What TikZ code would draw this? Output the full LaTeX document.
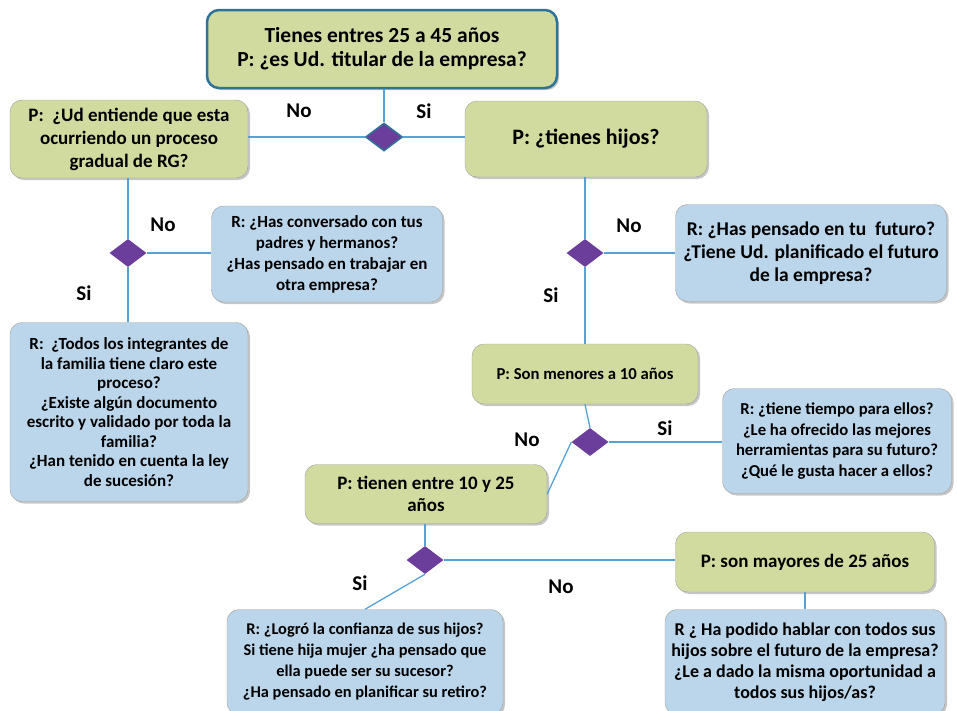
\documentclass[tikz,border=0pt]{standalone}
\usepackage{fontspec}
\setmainfont{Carlito}
\usetikzlibrary{shapes.geometric,shadows}

\definecolor{qgreen}{HTML}{D1DBA0}
\definecolor{rblue}{HTML}{BBD6EA}
\definecolor{dpurple}{HTML}{6B3E9C}
\definecolor{lineblue}{HTML}{55A3D6}
\definecolor{edgeteal}{HTML}{2F7398}

\tikzset{
  qbox/.style={draw=gray!75, fill=qgreen, rounded corners=12pt, align=center,
    inner sep=2pt, drop shadow={shadow xshift=2pt, shadow yshift=-2pt, opacity=.45}},
  rbox/.style={qbox, fill=rblue},
  choice/.style={diamond, fill=dpurple, inner sep=0pt, minimum width=37pt, minimum height=28pt},
  conn/.style={draw=lineblue, line width=1.3pt},
  answer/.style={font=\fontsize{21}{22}\selectfont\bfseries}
}

\begin{document}
\begin{tikzpicture}[x=1pt, y=-1pt]
			\useasboundingbox (0,0) rectangle (957,710);
			\clip (0,0) rectangle (957,710);
			
			\node[qbox, draw=edgeteal, line width=2.5pt, minimum width=350pt, minimum height=78pt,
			  font=\fontsize{21.5}{24}\selectfont\bfseries] (start) at (382,49)
			  {Tienes entres 25 a 45 años\\P: ¿es Ud. titular de la empresa?};
			
			\node[qbox, minimum width=238pt, minimum height=78pt, font=\fontsize{19}{23}\selectfont\bfseries]
			  (proceso) at (129,139) {P:\ \ ¿Ud entiende que esta\\ocurriendo un proceso\\gradual de RG?};
			\node[qbox, minimum width=242pt, minimum height=76pt, font=\fontsize{22}{24}\selectfont\bfseries]
			  (hijos) at (586,139) {P: ¿tienes hijos?};
			
			\node[rbox, minimum width=231pt, minimum height=96pt, font=\fontsize{17}{21}\selectfont\bfseries]
			  (padres) at (327,254) {R: ¿Has conversado con tus\\padres y hermanos?\\¿Has pensado en trabajar en\\otra empresa?};
			\node[rbox, minimum width=238pt, minimum height=179pt, font=\fontsize{17}{19.5}\selectfont\bfseries]
			  (familia) at (129,412) {R:\ \ ¿Todos los integrantes de\\la familia tiene claro este\\proceso?\\¿Existe algún documento\\escrito y validado por toda la\\familia?\\¿Han tenido en cuenta la ley\\de sucesión?};
			\node[rbox, minimum width=271pt, minimum height=97pt, font=\fontsize{19.5}{23}\selectfont\bfseries]
			  (futuro) at (811,253) {R: ¿Has pensado en tu\ \ futuro?\\¿Tiene Ud. planificado el futuro\\de la empresa?};
			
			\node[qbox, minimum width=226pt, minimum height=60pt, font=\fontsize{16.7}{20}\selectfont\bfseries]
			  (menores) at (585,374) {P: Son menores a 10 años};
			\node[rbox, minimum width=229pt, minimum height=105pt, font=\fontsize{16.7}{20.5}\selectfont\bfseries]
			  (tiempo) at (837,441) {R: ¿tiene tiempo para ellos?\\¿Le ha ofrecido las mejores\\herramientas para su futuro?\\¿Qué le gusta hacer a ellos?};
			\node[qbox, minimum width=242pt, minimum height=59pt, font=\fontsize{19}{22}\selectfont\bfseries]
			  (entre) at (426,494) {P: tienen entre 10 y 25\\años};
			\node[qbox, minimum width=259pt, minimum height=60pt, font=\fontsize{19}{22}\selectfont\bfseries]
			  (mayores) at (805,562) {P: son mayores de 25 años};
			
			\node[rbox, minimum width=276pt, minimum height=105pt, font=\fontsize{16.4}{21}\selectfont\bfseries]
			  (confianza) at (365,662) {R: ¿Logró la confianza de sus hijos?\\Si tiene hija mujer ¿ha pensado que\\ella puede ser su sucesor?\\¿Ha pensado en planificar su retiro?};
			\node[rbox, minimum width=280pt, minimum height=105pt, font=\fontsize{18}{21}\selectfont\bfseries]
			  (hablar) at (805,662) {R ¿ Ha podido hablar con todos sus\\hijos sobre el futuro de la empresa?\\¿Le a dado la misma oportunidad a\\todos sus hijos/as?};
			
			% decision points
			\node[choice, draw=edgeteal, line width=1.5pt] (titular) at (384,137) {};
			\node[choice] (rg) at (128,253) {};
			\node[choice] (tiene) at (585,253) {};
			\node[choice] (diez) at (590,442) {};
			\node[choice] (veinte) at (425,560) {};
			
			% connectors
			\draw[conn] (start.south -| titular) -- (titular.north);
			\draw[conn] (titular.west) -- (titular.west -| proceso.east);
			\draw[conn] (titular.east) -- (titular.east -| hijos.west);
			\draw[conn] (proceso.south -| rg) -- (rg.north);
			\draw[conn] (rg.south) -- (rg.south |- familia.north);
			\draw[conn] (rg.east) -- (rg.east -| padres.west);
			\draw[conn] (hijos.south -| tiene) -- (tiene.north);
			\draw[conn] (tiene.south) -- (tiene.south |- menores.north);
			\draw[conn] (tiene.east) -- (tiene.east -| futuro.west);
			\draw[conn] (menores.south) -- (diez.north);
			\draw[conn] (diez.east) -- (diez.east -| tiempo.west);
			\draw[conn] (diez.west) -- (entre.east);
			\draw[conn] (entre.south -| veinte) -- (veinte.north);
			\draw[conn] (veinte.east) -- (veinte.east -| mayores.west);
			\draw[conn] (veinte.south) -- (confianza.north);
			\draw[conn] (mayores.south) -- (hablar.north);
			
			% answers
			\node[answer] (no1) at (299,111) {No};
			\node[answer] (si1) at (424,111) {Si};
			\node[answer] (no2) at (163,225) {No};
			\node[answer] (si2) at (84,293) {Si};
			\node[answer] (no3) at (629,226) {No};
			\node[answer] (si3) at (551,295) {Si};
			\node[answer] (no4) at (527,440) {No};
			\node[answer] (si4) at (665,428) {Si};
			\node[answer] (si5) at (360,583) {Si};
			\node[answer] (no5) at (561,587) {No};
\end{tikzpicture}
\end{document}
